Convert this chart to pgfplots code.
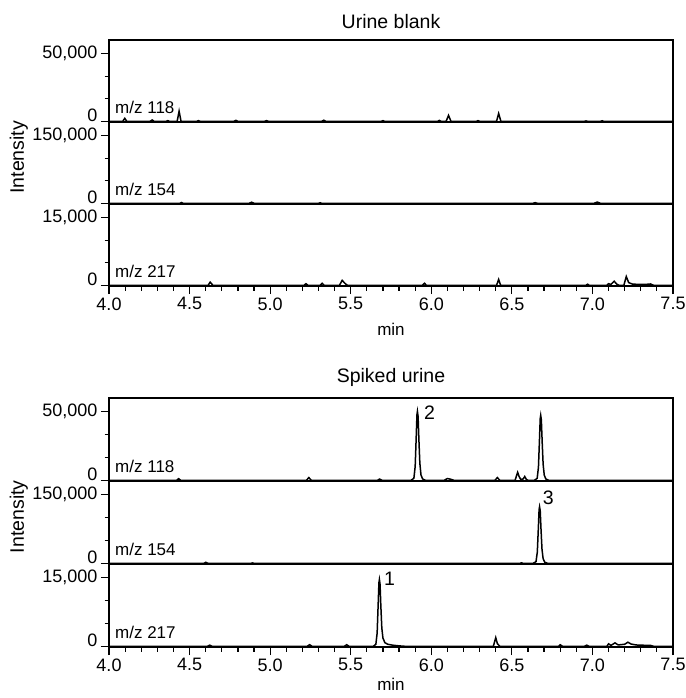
\documentclass[border=0pt]{standalone}
\usepackage{fontspec}
\setmainfont{Liberation Sans}
\usepackage{pgfplots}
\pgfplotsset{compat=1.18}

\newcommand{\tickfont}{\fontsize{18}{20}\selectfont}
\newcommand{\labfont}{\fontsize{17}{19}\selectfont}
\newcommand{\bigfont}{\fontsize{19.5}{22}\selectfont}

\pgfplotsset{
  chrom/.style={
    scale only axis, width=564pt, height=82pt,
    xmin=4, xmax=7.5,
    axis line style={line width=1.7pt},
    tick style={line width=1.2pt, black},
    tick align=outside,
    major tick length=8pt, minor tick length=4.5pt,
    xtick pos=bottom, ytick pos=left,
    minor y tick num=2,
    scaled y ticks=false,
    tick label style={font=\tickfont},
    label style={font=\labfont},
    title style={font=\bigfont, yshift=2pt},
    extra y ticks={0}, extra y tick labels={0},
    extra y tick style={yticklabel style={yshift=6pt}},
  },
  nox/.style={xtick=\empty},
  withx/.style={
    xtick={4,4.5,5,5.5,6,6.5,7,7.5},
    xticklabels={4.0,4.5,5.0,5.5,6.0,6.5,7.0,7.5},
    minor x tick num=4, xlabel={min},
  },
  intens/.style={ylabel={Intensity},
    ylabel style={font=\bigfont, at={(rel axis cs:-0.16,0.57)}, anchor=center}},
  r118/.style={ymin=-500, ymax=60000, ytick={0,50000}, yticklabels={,{50,000}}},
  r154/.style={ymin=-1500, ymax=180000, ytick={0,150000}, yticklabels={,{150,000}}},
  r217/.style={ymin=-150, ymax=18000, ytick={0,15000}, yticklabels={,{15,000}}},
  trace/.style={black, line width=1.5pt, mark=none},
}

\newcommand{\mz}[1]{\node[anchor=base west, inner sep=0pt, font=\labfont]
  at ([xshift=6pt,yshift=9pt]rel axis cs:0,0) {m/z #1};}

\begin{document}
\begin{tikzpicture}
\useasboundingbox (0pt,0pt) rectangle (685pt,-698pt);

% ---------- Urine blank ----------
\begin{axis}[chrom, r118, nox, at={(109pt,-40pt)}, anchor=north west, title={Urine blank}]
\addplot[trace] coordinates {
(4.0,0) (4.085,0) (4.098,2200) (4.11,0) (4.255,0) (4.268,1000) (4.28,0)
(4.355,0) (4.365,500) (4.375,0) (4.423,0) (4.435,7500) (4.447,0)
(4.545,0) (4.555,500) (4.565,0) (4.775,0) (4.787,700) (4.80,0)
(4.965,0) (4.977,500) (4.99,0) (5.32,0) (5.333,800) (5.345,0)
(5.69,0) (5.70,500) (5.71,0) (6.04,0) (6.05,700) (6.06,0)
(6.092,0) (6.107,4400) (6.122,0) (6.28,0) (6.29,500) (6.30,0)
(6.405,0) (6.418,5800) (6.432,0) (6.95,0) (6.96,300) (6.97,0)
(7.05,0) (7.06,400) (7.07,0) (7.5,0)};
\mz{118}
\end{axis}

\begin{axis}[chrom, r154, nox, intens, at={(109pt,-122pt)}, anchor=north west]
\addplot[trace] coordinates {
(4.0,0) (4.44,0) (4.45,1800) (4.46,0) (4.87,0) (4.885,2500) (4.90,0)
(5.30,0) (5.31,1200) (5.32,0) (6.63,0) (6.645,1400) (6.66,0)
(7.01,0) (7.03,2800) (7.05,0) (7.5,0)};
\mz{154}
\end{axis}

\begin{axis}[chrom, r217, withx, at={(109pt,-204pt)}, anchor=north west,
  xlabel style={yshift=-6pt}]
\addplot[trace] coordinates {
(4.0,0) (4.615,0) (4.628,700) (4.645,0) (5.21,0) (5.222,350) (5.235,0)
(5.31,0) (5.323,450) (5.335,0) (5.43,0) (5.447,1100) (5.465,400) (5.48,0)
(5.945,0) (5.958,450) (5.97,0) (6.405,0) (6.418,1300) (6.43,0)
(6.96,0) (6.97,250) (6.98,0) (7.09,0) (7.10,350) (7.115,200) (7.135,900)
(7.15,300) (7.165,0) (7.195,0) (7.21,1950) (7.225,600) (7.25,250)
(7.33,200) (7.36,300) (7.38,0) (7.5,0)};
\mz{217}
\end{axis}

% ---------- Spiked urine ----------
\begin{axis}[chrom, r118, nox, height=83pt, at={(109pt,-398pt)}, anchor=north west, title={Spiked urine}]
\addplot[trace] coordinates {
(4.0,0) (4.42,0) (4.432,1200) (4.445,0) (5.225,0) (5.24,2000) (5.255,0)
(5.665,0) (5.68,900) (5.695,0)
(5.874,0) (5.892,1500) (5.900,10000) (5.906,30000) (5.911,47700) (5.914,50200)
(5.918,46700) (5.923,30000) (5.929,12500) (5.936,4000) (5.946,1000) (5.964,0)
(6.08,0) (6.10,1300) (6.12,800) (6.14,0) (6.395,0) (6.41,2000) (6.425,0)
(6.52,0) (6.528,3000) (6.536,5800) (6.544,3000) (6.555,600) (6.57,1000)
(6.58,2800) (6.59,600) (6.60,0)
(6.639,0) (6.657,1400) (6.665,9500) (6.671,28400) (6.676,45000) (6.679,47300)
(6.683,44000) (6.688,28400) (6.694,11800) (6.701,3800) (6.711,950) (6.729,0)
(7.5,0)};
\mz{118}
\node[anchor=base west, inner sep=0pt, font=\bigfont] at (axis cs:5.955,44200) {2};
\end{axis}

\begin{axis}[chrom, r154, nox, intens, height=83pt, at={(109pt,-481pt)}, anchor=north west]
\addplot[trace] coordinates {
(4.0,0) (4.59,0) (4.60,2200) (4.615,0) (4.88,0) (4.89,800) (4.90,0)
(6.55,0) (6.56,1000) (6.57,0)
(6.632,0) (6.650,3700) (6.658,24700) (6.664,74000) (6.669,117400) (6.672,123600)
(6.676,115000) (6.681,74000) (6.687,31000) (6.694,10000) (6.704,2500) (6.722,0)
(7.5,0)};
\mz{154}
\node[anchor=base west, inner sep=0pt, font=\bigfont] at (axis cs:6.691,128600) {3};
\end{axis}

\begin{axis}[chrom, r217, withx, height=83pt, at={(109pt,-564pt)}, anchor=north west]
\addplot[trace] coordinates {
(4.0,0) (4.61,0) (4.625,250) (4.64,0) (5.23,0) (5.245,350) (5.26,0)
(5.46,0) (5.475,350) (5.49,0)
(5.640,0) (5.656,440) (5.664,2900) (5.670,8800) (5.675,13900) (5.678,14600)
(5.682,13600) (5.687,8800) (5.693,4000) (5.700,1800) (5.712,800) (5.730,450)
(5.760,250) (5.800,100) (5.84,0)
(6.385,0) (6.40,1900) (6.41,600) (6.425,0) (6.79,0) (6.80,350) (6.815,0)
(6.95,0) (6.965,250) (6.98,0) (7.09,0) (7.10,550) (7.115,200) (7.14,750)
(7.16,300) (7.20,450) (7.22,900) (7.24,500) (7.27,300) (7.30,250)
(7.36,200) (7.38,0) (7.5,0)};
\mz{217}
\node[anchor=base west, inner sep=0pt, font=\bigfont] at (axis cs:5.706,13200) {1};
\end{axis}
\end{tikzpicture}
\end{document}
